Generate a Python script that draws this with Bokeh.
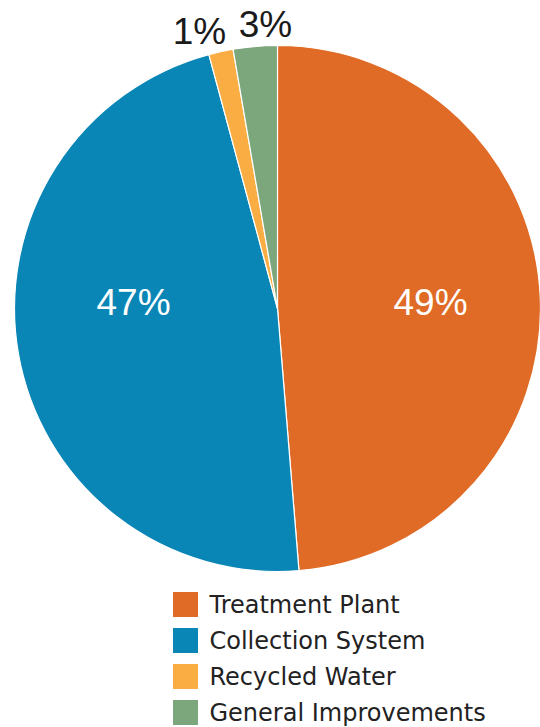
import math
from bokeh.plotting import figure
from bokeh.models import Range1d, ColumnDataSource
from bokeh.core.properties import value
from bokeh.embed import file_html
from bokeh.resources import INLINE

# ---- data ----
categories = ["Treatment Plant", "Collection System", "Recycled Water", "General Improvements"]
shares = [48.7, 47.1, 1.5, 2.7]
pct_labels = ["49%", "47%", "1%", "3%"]
colors = ["#E06B26", "#0A86B6", "#FAAD42", "#7CA67B"]

W, H = 540, 727


def px(x):
    return x


def py(y):
    return H - y


p = figure(width=W, height=H, output_backend="svg", toolbar_location=None,
           x_range=Range1d(0, W), y_range=Range1d(0, H), min_border=0)
p.axis.visible = False
p.grid.visible = False
p.outline_line_color = None
p.background_fill_color = "white"
p.border_fill_color = "white"

cx, cy, r = px(277), py(308), 263
total = sum(shares)
starts, ends = [], []
cum = 0.0
for s in shares:
    starts.append(math.pi / 2 - cum / total * 2 * math.pi)
    cum += s
    ends.append(math.pi / 2 - cum / total * 2 * math.pi)

src = ColumnDataSource(dict(start=starts, end=ends, color=colors, cat=categories))
p.wedge(x=cx, y=cy, radius=r, start_angle="start", end_angle="end", direction="clock",
        fill_color="color", line_color="white", line_width=1.2, source=src)

# percentage labels
lab_pos = [(430, 302), (133, 302), (199, 31), (265, 24)]
lab_col = ["white", "white", "#1a1a1a", "#1a1a1a"]
p.text(x=[px(a) for a, b in lab_pos], y=[py(b) for a, b in lab_pos], text=pct_labels,
       text_color=lab_col, text_font=value("Liberation Sans"), text_font_size="37px",
       text_align="center", text_baseline="middle")

# legend
leg_y = [604 + 36 * i for i in range(len(categories))]
p.rect(x=[px(185)] * len(categories), y=[py(v) for v in leg_y], width=25, height=25,
       fill_color=colors, line_color=None)
p.text(x=[px(209)] * len(categories), y=[py(v) for v in leg_y], text=categories,
       text_color="#222222", text_font=value("DejaVu Sans"), text_font_size="24px",
       text_align="left", text_baseline="middle")

open("out.html", "w").write(file_html(p, INLINE))
